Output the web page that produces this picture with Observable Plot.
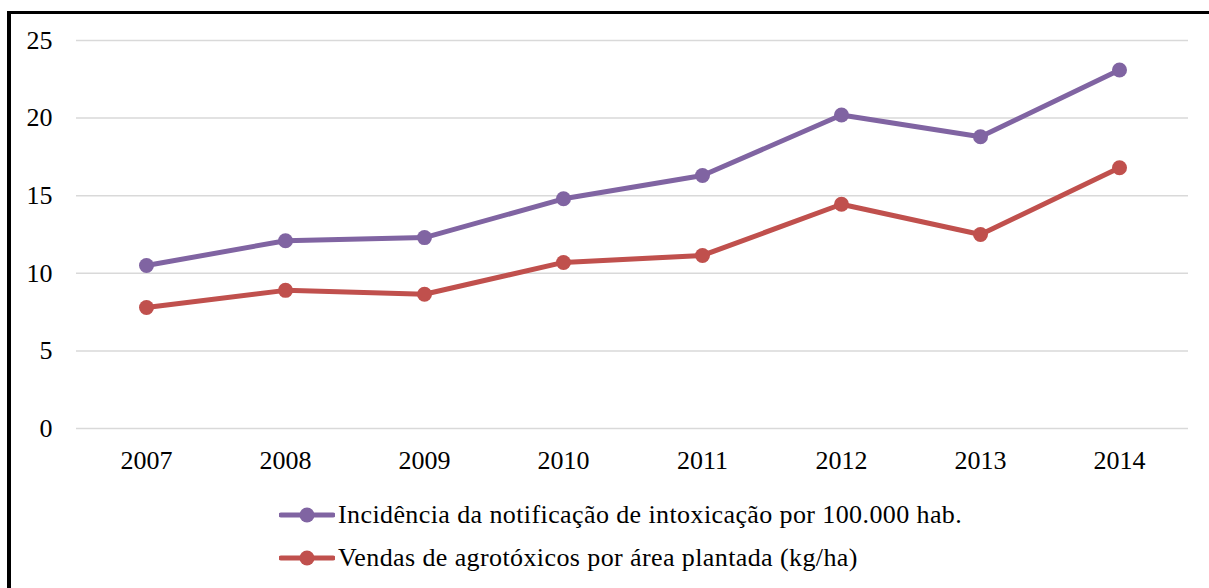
<!DOCTYPE html>
<html>
<head>
<meta charset="utf-8">
<script src="https://cdn.jsdelivr.net/npm/d3@7"></script>
<script src="https://cdn.jsdelivr.net/npm/@observablehq/plot@0.6"></script>
<style>
  html, body { margin: 0; padding: 0; background: #fff; overflow: hidden; }
  body { width: 1209px; height: 588px; position: relative; font-family: "Liberation Serif", Tinos, "Nimbus Roman", "Times New Roman", Times, "DejaVu Serif", serif; }
  #frame { position: absolute; left: 7px; top: 11px; width: 1202px; height: 577px; border-left: 4px solid #000; border-top: 3px solid #000; box-sizing: border-box; }
  #chart { position: absolute; left: 0; top: 0; }
  #chart svg text { font-family: "Liberation Serif", Tinos, "Nimbus Roman", "Times New Roman", Times, "DejaVu Serif", serif; }
  #legend { position: absolute; left: 279px; top: 493px; font-size: 26px; letter-spacing: 0.4px; color: #000; }
  .item { display: flex; align-items: center; height: 43px; }
  .item svg { margin-right: 3px; }
</style>
</head>
<body>
<div id="frame"></div>
<div id="chart"></div>
<div id="legend"></div>
<script>
const years = ["2007", "2008", "2009", "2010", "2011", "2012", "2013", "2014"];
const incidencia = [10.5, 12.1, 12.3, 14.8, 16.3, 20.2, 18.8, 23.1];
const vendas = [7.8, 8.9, 8.65, 10.7, 11.15, 14.45, 12.5, 16.8];
const yTicks = [0, 5, 10, 15, 20, 25];
const seriesNames = [
  "Incidência da notificação de intoxicação por 100.000 hab.",
  "Vendas de agrotóxicos por área plantada (kg/ha)"
];
const colors = ["#8064A2", "#C0504D"];
const serif = "'Liberation Serif', Tinos, 'Nimbus Roman', 'Times New Roman', Times, 'DejaVu Serif', serif";

const rows = [];
years.forEach((y, i) => {
  rows.push({year: y, value: incidencia[i], s: seriesNames[0]});
  rows.push({year: y, value: vendas[i], s: seriesNames[1]});
});

const chart = Plot.plot({
  width: 1209,
  height: 490,
  marginLeft: 76,
  marginRight: 21,
  marginTop: 40,
  marginBottom: 62,
  style: { fontFamily: serif, fontSize: "26px", color: "#000", background: "transparent" },
  x: { type: "point", domain: years, padding: 0.5, label: null },
  y: { domain: [0, 25], ticks: yTicks, label: null },
  color: { domain: seriesNames, range: colors },
  marks: [
    Plot.ruleY(yTicks, { stroke: "#d9d9d9", strokeWidth: 1.5 }),
    Plot.axisY({ ticks: yTicks, tickSize: 0, tickPadding: 24, fontSize: 26, fontFamily: serif, label: null }),
    Plot.axisX({ tickSize: 0, tickPadding: 22, fontSize: 26, fontFamily: serif, label: null }),
    Plot.line(rows, { x: "year", y: "value", z: "s", stroke: "s", strokeWidth: 5, strokeLinejoin: "round" }),
    Plot.dot(rows, { x: "year", y: "value", fill: "s", r: 7.5 })
  ]
});
document.getElementById("chart").appendChild(chart);

const legend = document.getElementById("legend");
seriesNames.forEach((name, i) => {
  const item = document.createElement("div");
  item.className = "item";
  item.innerHTML = `<svg width="56" height="20"><line x1="2" y1="10" x2="54" y2="10" stroke="${colors[i]}" stroke-width="5" stroke-linecap="round"/><circle cx="28" cy="10" r="7.5" fill="${colors[i]}"/></svg><span>${name}</span>`;
  legend.appendChild(item);
});
</script>
</body>
</html>
